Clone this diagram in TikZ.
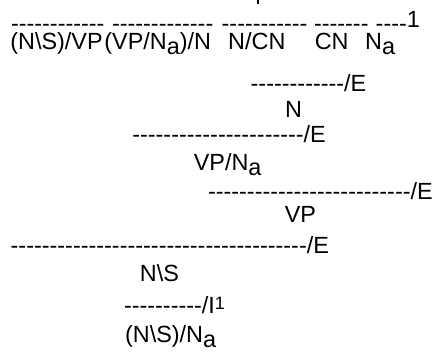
\documentclass[tikz,border=0pt]{standalone}
\usepackage{fontspec}
\newfontfamily\arial{Liberation Sans}
\newcommand\suba{\raisebox{-5pt}{a}}
\newcommand\supone{\raisebox{4pt}{\fontsize{18}{18}\selectfont 1}}
\newcommand\supbig{\raisebox{4pt}{1}}
\tikzset{
  txt/.style={font=\arial\fontsize{23.4}{28}\selectfont, anchor=base west, inner sep=0pt, outer sep=0pt, text=black},
  rulerow/.style={txt, text height=9pt, text depth=0pt}
}
\begin{document}
\begin{tikzpicture}[x=1pt,y=-1pt]
\useasboundingbox (0,0) rectangle (435,354);
\fill[white] (0,0) rectangle (435,354);
\draw[line width=2pt] (258,0) -- (258,4);
% row 1: rules over the words
\node[rulerow] (r1a) at (11,31) {------------};
\node[rulerow] (r1b) at (112,31) {-------------};
\node[rulerow] (r1c) at (221.7,31) {-----------};
\node[rulerow] (r1d) at (314,31) {-------};
\node[rulerow] (r1e) at (375.7,31) {----\supbig};
% row 2: words
\node[txt] (w1) at (10.4,49.3) {(N\textbackslash S)/VP};
\node[txt] (w2) at (104.4,49.3) {(VP/N\suba)/N};
\node[txt] (w3) at (228.2,49.3) {N/CN};
\node[txt] (w4) at (314.8,49.3) {CN};
\node[txt] (w5) at (365.2,49.3) {N\suba};
% deductions
\node[rulerow] (e1) at (250.7,91.3) {------------/E};
\node[txt] (n1) at (285.2,117) {N};
\node[rulerow] (e2) at (132.3,142.3) {----------------------/E};
\node[txt] (vpna) at (193.8,170) {VP/N\suba};
\node[rulerow] (e3) at (208,199.6) {--------------------------/E};
\node[txt] (vp) at (284.8,222) {VP};
\node[rulerow] (e4) at (10.7,253.6) {--------------------------------------/E};
\node[txt] (ns) at (139.9,281.7) {N\textbackslash S};
\node[rulerow] (i1) at (124,313) {----------/I\supone};
\node[txt] (nsna) at (125.1,342) {(N\textbackslash S)/N\suba};
\end{tikzpicture}
\end{document}
